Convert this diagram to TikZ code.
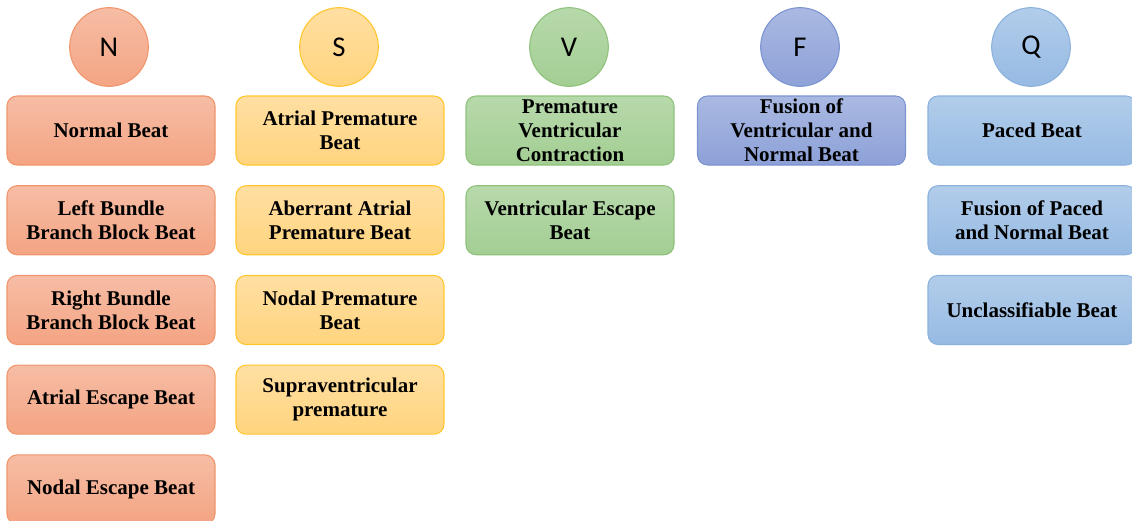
\documentclass[tikz,border=0pt]{standalone}
\usepackage{fontspec}
\setmainfont{Liberation Serif}
\newfontfamily\circfont{Carlito}
\usetikzlibrary{positioning}

\definecolor{nTop}{HTML}{F6BDA5}
\definecolor{nBot}{HTML}{F4A483}
\definecolor{nLine}{HTML}{F0956B}
\definecolor{sTop}{HTML}{FFDFA2}
\definecolor{sBot}{HTML}{FFD47E}
\definecolor{sLine}{HTML}{FFC72C}
\definecolor{vTop}{HTML}{B7D9AB}
\definecolor{vBot}{HTML}{A3CE93}
\definecolor{vLine}{HTML}{8FC27B}
\definecolor{fTop}{HTML}{AAB9E2}
\definecolor{fBot}{HTML}{8DA1D8}
\definecolor{fLine}{HTML}{7C93D1}
\definecolor{qTop}{HTML}{B2CDEA}
\definecolor{qBot}{HTML}{96BAE3}
\definecolor{qLine}{HTML}{8BB1DD}

\begin{document}
\begin{tikzpicture}[x=0.75pt, y=-0.75pt,
  circ/.style={circle, minimum size=59pt, inner sep=0pt, line width=0.8pt,
    font=\circfont\fontsize{21.5}{24}\selectfont},
  beat/.style={rounded corners=7.5pt, minimum width=156pt, minimum height=51.75pt,
    inner sep=2pt, align=center, line width=0.8pt,
    font=\bfseries\fontsize{15.75}{18}\selectfont},
  grpN/.style={top color=nTop, bottom color=nBot, draw=nLine},
  grpS/.style={top color=sTop, bottom color=sBot, draw=sLine},
  grpV/.style={top color=vTop, bottom color=vBot, draw=vLine},
  grpF/.style={top color=fTop, bottom color=fBot, draw=fLine},
  grpQ/.style={top color=qTop, bottom color=qBot, draw=qLine},
  node distance=14.75pt]

\useasboundingbox (0,0) rectangle (1132,521);
\clip (0,0) rectangle (1132,521);

% classes
\node[circ, grpN] (N) at (109,47) {N};
\node[circ, grpS] (S) at (339,47) {S};
\node[circ, grpV] (V) at (569,47) {V};
\node[circ, grpF] (F) at (800,47) {F};
\node[circ, grpQ] (Q) at (1031,47) {Q};

% N beats
\node[beat, grpN] (n1) at (111,130.5) {Normal Beat};
\node[beat, grpN, below=of n1] (n2) {Left Bundle\\Branch Block Beat};
\node[beat, grpN, below=of n2] (n3) {Right Bundle\\Branch Block Beat};
\node[beat, grpN, below=of n3] (n4) {Atrial Escape Beat};
\node[beat, grpN, below=of n4] (n5) {Nodal Escape Beat};

% S beats
\node[beat, grpS] (s1) at (340,130.5) {Atrial Premature\\Beat};
\node[beat, grpS, below=of s1] (s2) {Aberrant Atrial\\Premature Beat};
\node[beat, grpS, below=of s2] (s3) {Nodal Premature\\Beat};
\node[beat, grpS, below=of s3] (s4) {Supraventricular\\premature};

% V beats
\node[beat, grpV] (v1) at (570,130.5) {Premature\\Ventricular\\Contraction};
\node[beat, grpV, below=of v1] (v2) {Ventricular Escape\\Beat};

% F beats
\node[beat, grpF] (f1) at (801.5,130.5) {Fusion of\\Ventricular and\\Normal Beat};

% Q beats
\node[beat, grpQ] (q1) at (1032,130.5) {Paced Beat};
\node[beat, grpQ, below=of q1] (q2) {Fusion of Paced\\and Normal Beat};
\node[beat, grpQ, below=of q2] (q3) {Unclassifiable Beat};

\end{tikzpicture}
\end{document}
